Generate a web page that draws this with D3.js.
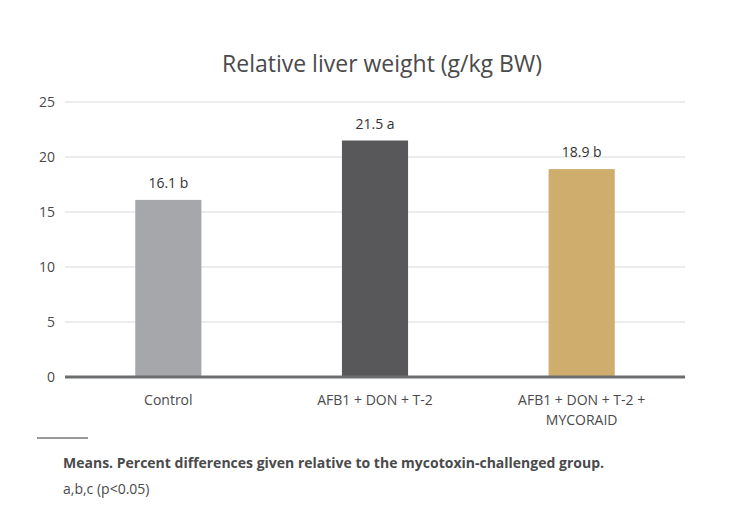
<!DOCTYPE html>
<html><head><meta charset="utf-8">
<script src="https://cdn.jsdelivr.net/npm/d3@7"></script>
<style>body{margin:0;background:#fff;font-family:"Open Sans",sans-serif;}</style>
</head><body><div id="chart"></div>
<script>
const categories = ["Control", "AFB1 + DON + T-2", "AFB1 + DON + T-2 + MYCORAID"];
const values = [16.1, 21.5, 18.9];
const letters = ["b", "a", "b"];
const colors = ["#a6a7aa", "#58585a", "#cfad6d"];
const ticks = [0, 5, 10, 15, 20, 25];

const width = 742, height = 517;
const svg = d3.select("#chart").append("svg").attr("width", width).attr("height", height);

const x = d3.scaleBand().domain(categories).range([65, 685]).paddingInner(0.68).paddingOuter(0.34);
const y = d3.scaleLinear().domain([0, 25]).range([377, 102]);

svg.append("text").attr("x", 382).attr("y", 72).attr("text-anchor", "middle")
  .style("font-size", "23px").style("fill", "#4a4a4c").text("Relative liver weight (g/kg BW)");

// grid
svg.selectAll(".grid").data(ticks.slice(1)).enter().append("line")
  .attr("x1", 65).attr("x2", 685).attr("y1", d => y(d)).attr("y2", d => y(d))
  .attr("stroke", "#d9d9d9").attr("stroke-width", 1);

svg.selectAll(".tick").data(ticks).enter().append("text")
  .attr("x", 55).attr("y", d => y(d) + 5).attr("text-anchor", "end")
  .style("font-size", "14px").style("fill", "#4a4a4c").text(d => d);

svg.selectAll(".bar").data(categories).enter().append("rect")
  .attr("x", d => x(d)).attr("width", x.bandwidth())
  .attr("y", (d, i) => y(values[i])).attr("height", (d, i) => y(0) - y(values[i]))
  .attr("fill", (d, i) => colors[i]);

svg.selectAll(".val").data(categories).enter().append("text")
  .attr("x", d => x(d) + x.bandwidth() / 2).attr("y", (d, i) => y(values[i]) - 12)
  .attr("text-anchor", "middle").style("font-size", "14px").style("fill", "#333")
  .text((d, i) => values[i] + " " + letters[i]);

svg.append("line").attr("x1", 65).attr("x2", 685).attr("y1", y(0)).attr("y2", y(0))
  .attr("stroke", "#6d6e70").attr("stroke-width", 3);

const labelLines = [["Control"], ["AFB1 + DON + T-2"], ["AFB1 + DON + T-2 +", "MYCORAID"]];
categories.forEach((c, i) => {
  labelLines[i].forEach((t, j) => {
    svg.append("text").attr("x", x(c) + x.bandwidth() / 2).attr("y", 405 + j * 20)
      .attr("text-anchor", "middle").style("font-size", "14px").style("fill", "#4a4a4c").text(t);
  });
});

svg.append("line").attr("x1", 37).attr("x2", 88).attr("y1", 438).attr("y2", 438)
  .attr("stroke", "#333").attr("stroke-width", 1);
svg.append("text").attr("x", 63).attr("y", 468).style("font-size", "14px").style("font-weight", "bold")
  .style("fill", "#4a4a4c").text("Means. Percent differences given relative to the mycotoxin-challenged group.");
svg.append("text").attr("x", 63).attr("y", 494).style("font-size", "14px")
  .style("fill", "#4a4a4c").text("a,b,c (p<0.05)");
</script></body></html>
